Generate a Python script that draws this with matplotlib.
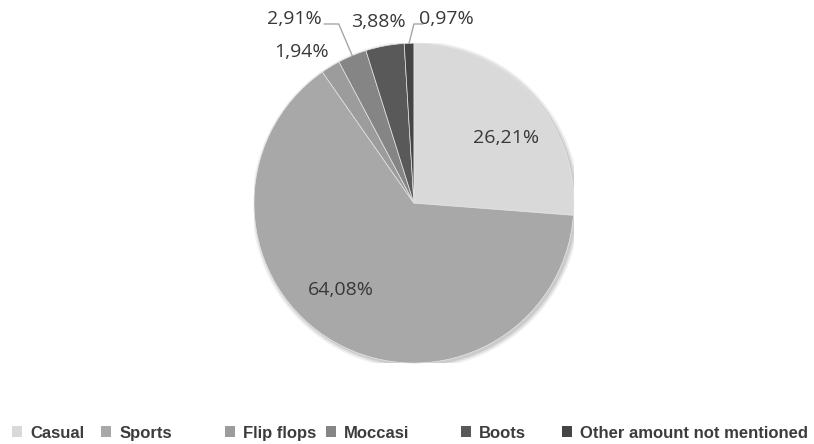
import matplotlib.pyplot as plt
from matplotlib.patches import Rectangle, Circle
import numpy as np

categories = ['Casual', 'Sports', 'Flip flops', 'Moccasi', 'Boots', 'Other amount not mentioned']
shares = [26.21, 64.08, 1.94, 2.91, 3.88, 0.97]
colors = ['#d9d9d9', '#a8a8a8', '#9c9c9c', '#858585', '#595959', '#454545']

# label centres, in pie radii from the centre
label_pos = [(0.575, 0.41), (-0.456, -0.545), (-0.705, 0.945),
             (-0.745, 1.15), (-0.22, 1.13), (0.2, 1.15)]
# leader lines: (elbow, end next to text) for the two labels that have one
leaders = {3: [(-0.47, 1.12), (-0.56, 1.12)], 5: [(0.0, 1.12), (0.055, 1.12)]}
legend_x = [12, 101, 225, 326, 461, 562]

fig = plt.figure(figsize=(8.14, 4.44), dpi=100)
ax = fig.add_axes([0.312, 0.182, 0.393, 0.721])

# faint drop shadow behind the pie
for r, a in [(1.025, 0.05), (1.015, 0.07), (1.005, 0.09)]:
    ax.add_patch(Circle((0.012, -0.012), r, facecolor='#000000', alpha=a,
                        edgecolor='none', zorder=0))

wedges, _ = ax.pie(shares, colors=colors, startangle=90, counterclock=False,
                   wedgeprops=dict(edgecolor='#e6e6e6', linewidth=0.5, zorder=1))
ax.set_xlim(-1, 1)
ax.set_ylim(-1, 1)
ax.set_aspect('equal')

for i, (w, v) in enumerate(zip(wedges, shares)):
    x, y = label_pos[i]
    ax.text(x, y, ('%.2f%%' % v).replace('.', ','), ha='center', va='center',
            fontsize=14, family='Open Sans', color='#383838', clip_on=False)
    if i in leaders:
        mid = np.deg2rad((w.theta1 + w.theta2) / 2)
        pts = [(np.cos(mid), np.sin(mid))] + leaders[i]
        ax.plot([p[0] for p in pts], [p[1] for p in pts], color='#a6a6a6',
                lw=1, clip_on=False)

for name, col, lx in zip(categories, colors, legend_x):
    h = Rectangle((0, 0), 1, 1, facecolor=col, edgecolor='none')
    fig.legend([h], [name], loc='center left',
               bbox_to_anchor=(lx / 814, 11 / 444), frameon=False,
               borderpad=0, borderaxespad=0, handlelength=0.6, handleheight=0.6,
               handletextpad=0.5,
               prop=dict(family='Liberation Sans', weight='bold', size=12))
for lg in fig.legends:
    for t in lg.get_texts():
        t.set_color('#3c3c3c')

fig.savefig('out.png', dpi=100)
